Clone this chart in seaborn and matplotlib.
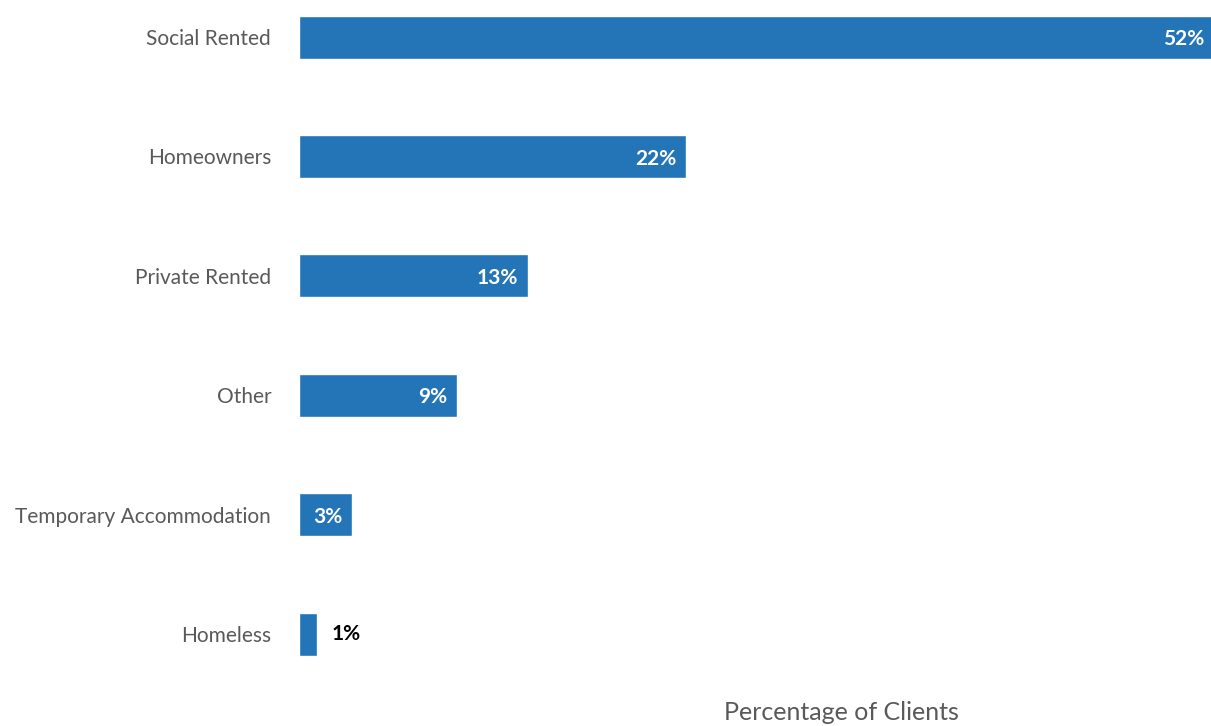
import matplotlib
matplotlib.use("Agg")
import matplotlib.pyplot as plt
import seaborn as sns
import pandas as pd

# Housing tenure of clients
categories = ["Social Rented", "Homeowners", "Private Rented", "Other",
              "Temporary Accommodation", "Homeless"]
values = [52, 22, 13, 9, 3, 1]
value_labels = ["52%", "22%", "13%", "9%", "3%", "1%"]

df = pd.DataFrame({"tenure": categories, "pct": values})

sns.set_theme(style="white")
plt.rcParams["font.family"] = ["Lato", "DejaVu Sans"]

W, H = 1211, 726
fig = plt.figure(figsize=(W / 100, H / 100), dpi=100)
ax = fig.add_axes([299 / W, 1 - 694 / H, 912 / W, 694 / H])

bar_color = "#2474b8"
sns.barplot(data=df, x="pct", y="tenure", orient="h", color=bar_color,
            saturation=1, width=0.36, ax=ax)

ax.set_xlim(0, 51.8)
ax.set_ylim(5.5, -0.31)
sns.despine(ax=ax, left=True, bottom=True)
ax.set_xticks([])
ax.set_ylabel("")
ax.tick_params(axis="y", length=0, pad=20, labelsize=15, labelcolor="#595959")

ax.set_xlabel("Percentage of Clients", fontsize=18, color="#595959")
ax.xaxis.set_label_coords((841 - 299) / 912, -(712 - 694) / 694)
ax.xaxis.label.set_verticalalignment("center")

for i, (v, lab) in enumerate(zip(values, value_labels)):
    if v >= 3:
        ax.annotate(lab, (v, i), xytext=(-7, -1.5), textcoords="offset points",
                    ha="right", va="center", color="white",
                    fontsize=15, fontweight="bold", annotation_clip=False)
    else:
        ax.annotate(lab, (v, i), xytext=(11, 0), textcoords="offset points",
                    ha="left", va="center", color="black",
                    fontsize=15, fontweight="bold", annotation_clip=False)

fig.savefig("out.png", dpi=100)
